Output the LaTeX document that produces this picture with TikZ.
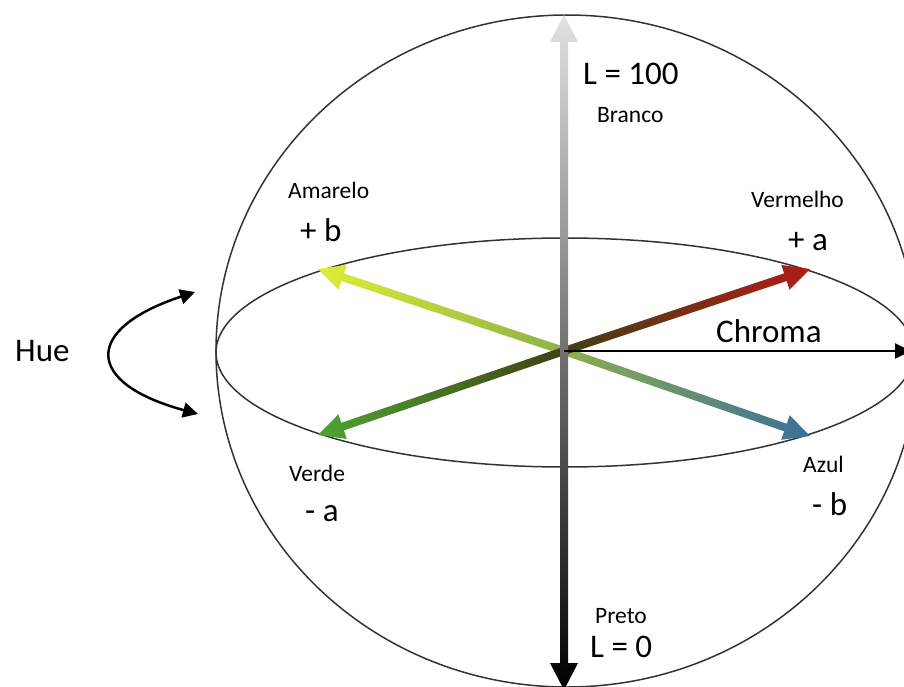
\documentclass[tikz,border=0pt]{standalone}
\usepackage{fontspec}
\setmainfont{Carlito}
\usetikzlibrary{arrows.meta, calc}
\definecolor{AmareloTip}{HTML}{DDEE33}
\definecolor{AzulTip}{HTML}{3C6F9A}
\definecolor{AmAzMid}{HTML}{8DB04A}
\definecolor{VermelhoTip}{HTML}{B01C18}
\definecolor{VerdeTip}{HTML}{4EA434}
\definecolor{VmVdMid}{HTML}{404012}
\definecolor{BrancoGray}{HTML}{E2E2E2}
\definecolor{MidGray}{HTML}{5C5C5C}
\tikzset{
    biglabel/.style={anchor=base west, inner sep=0pt, font=\fontsize{33}{36}\selectfont},
    smalllabel/.style={anchor=base west, inner sep=0pt, font=\fontsize{23.5}{26}\selectfont},
    outline/.style={line width=1.5pt, draw=black!80},
}
% shaded arrow from (O) to #1, left colour #2, right colour #3
\newcommand{\colorarrow}[3]{%
    \coordinate (hb) at ($(#1)!26pt!(O)$);
    \shade[left color=#2, right color=#3]
        ($(O)!4pt!90:(#1)$) -- ($(hb)!4pt!-90:(O)$) -- ($(hb)!13pt!-90:(O)$) -- (#1)
        -- ($(hb)!13pt!90:(O)$) -- ($(hb)!4pt!90:(O)$) -- ($(O)!4pt!-90:(#1)$) -- cycle;
}

\begin{document}
\begin{tikzpicture}[x=1pt, y=1pt]
    \useasboundingbox (-564,-335) rectangle (340,351);
    \coordinate (O) at (0,0);
    % L axis ends
    \coordinate (branco) at (0,336);
    \coordinate (preto) at (0,-339);
    \coordinate (chroma) at (347,0);
    % a and b axis ends
    \coordinate (amarelo) at (-246,82);
    \coordinate (vermelho) at (246,82);
    \coordinate (verde) at (-246,-84);
    \coordinate (azul) at (246,-85);
    \coordinate (hue top) at (-369,59);
    \coordinate (hue bot) at (-366,-63);

    % Sphere and equator
    \draw[outline] (3,0) ellipse [x radius=351pt, y radius=336pt];
    \draw[outline] (1,-1.5) ellipse [x radius=349pt, y radius=114.5pt];

    % Colour axes
    \colorarrow{amarelo}{AmareloTip}{AmAzMid}
    \colorarrow{azul}{AmAzMid}{AzulTip}
    \colorarrow{vermelho}{VmVdMid}{VermelhoTip}
    \colorarrow{verde}{VerdeTip}{VmVdMid}

    % Lightness
    \shade[top color=BrancoGray, middle color=MidGray, bottom color=black]
        ($(branco)+(-4,-27)$) -- ($(branco)+(-14,-27)$) -- (branco) -- ($(branco)+(14,-27)$) -- ($(branco)+(4,-27)$)
        -- ($(preto)+(4,27)$) -- ($(preto)+(14,27)$) -- (preto) -- ($(preto)+(-14,27)$) -- ($(preto)+(-4,27)$) -- cycle;

    \draw[line width=2pt, -{Triangle[length=16pt, width=15pt]}] (O) -- (chroma);
    \draw[line width=2.5pt, {Triangle[length=15pt, width=15pt]}-{Triangle[length=15pt, width=15pt]}]
        (hue top) .. controls +(-112,-37) and +(-114,31) .. (hue bot);

    % Labels
    \node[biglabel] (lcem) at (19,266) {L = 100};
    \node[smalllabel] (lbranco) at (33,229) {Branco};
    \node[smalllabel] (lamarelo) at (-276,153) {Amarelo};
    \node[biglabel] (lmaisb) at (-264,110) {+ b};
    \node[smalllabel] (lvermelho) at (187,144) {Vermelho};
    \node[biglabel] (lmaisa) at (224,101) {+ a};
    \node[biglabel] (lchroma) at (152,9) {Chroma};
    \node[biglabel] (lhue) at (-549,-10) {Hue};
    \node[smalllabel] (lverde) at (-275,-130) {Verde};
    \node[biglabel] (lmenosa) at (-259,-170) {- a};
    \node[smalllabel] (lazul) at (239,-121) {Azul};
    \node[biglabel] (lmenosb) at (248,-164) {- b};
    \node[smalllabel] (lpreto) at (31,-272) {Preto};
    \node[biglabel] (lzero) at (26,-306) {L = 0};
\end{tikzpicture}
\end{document}
